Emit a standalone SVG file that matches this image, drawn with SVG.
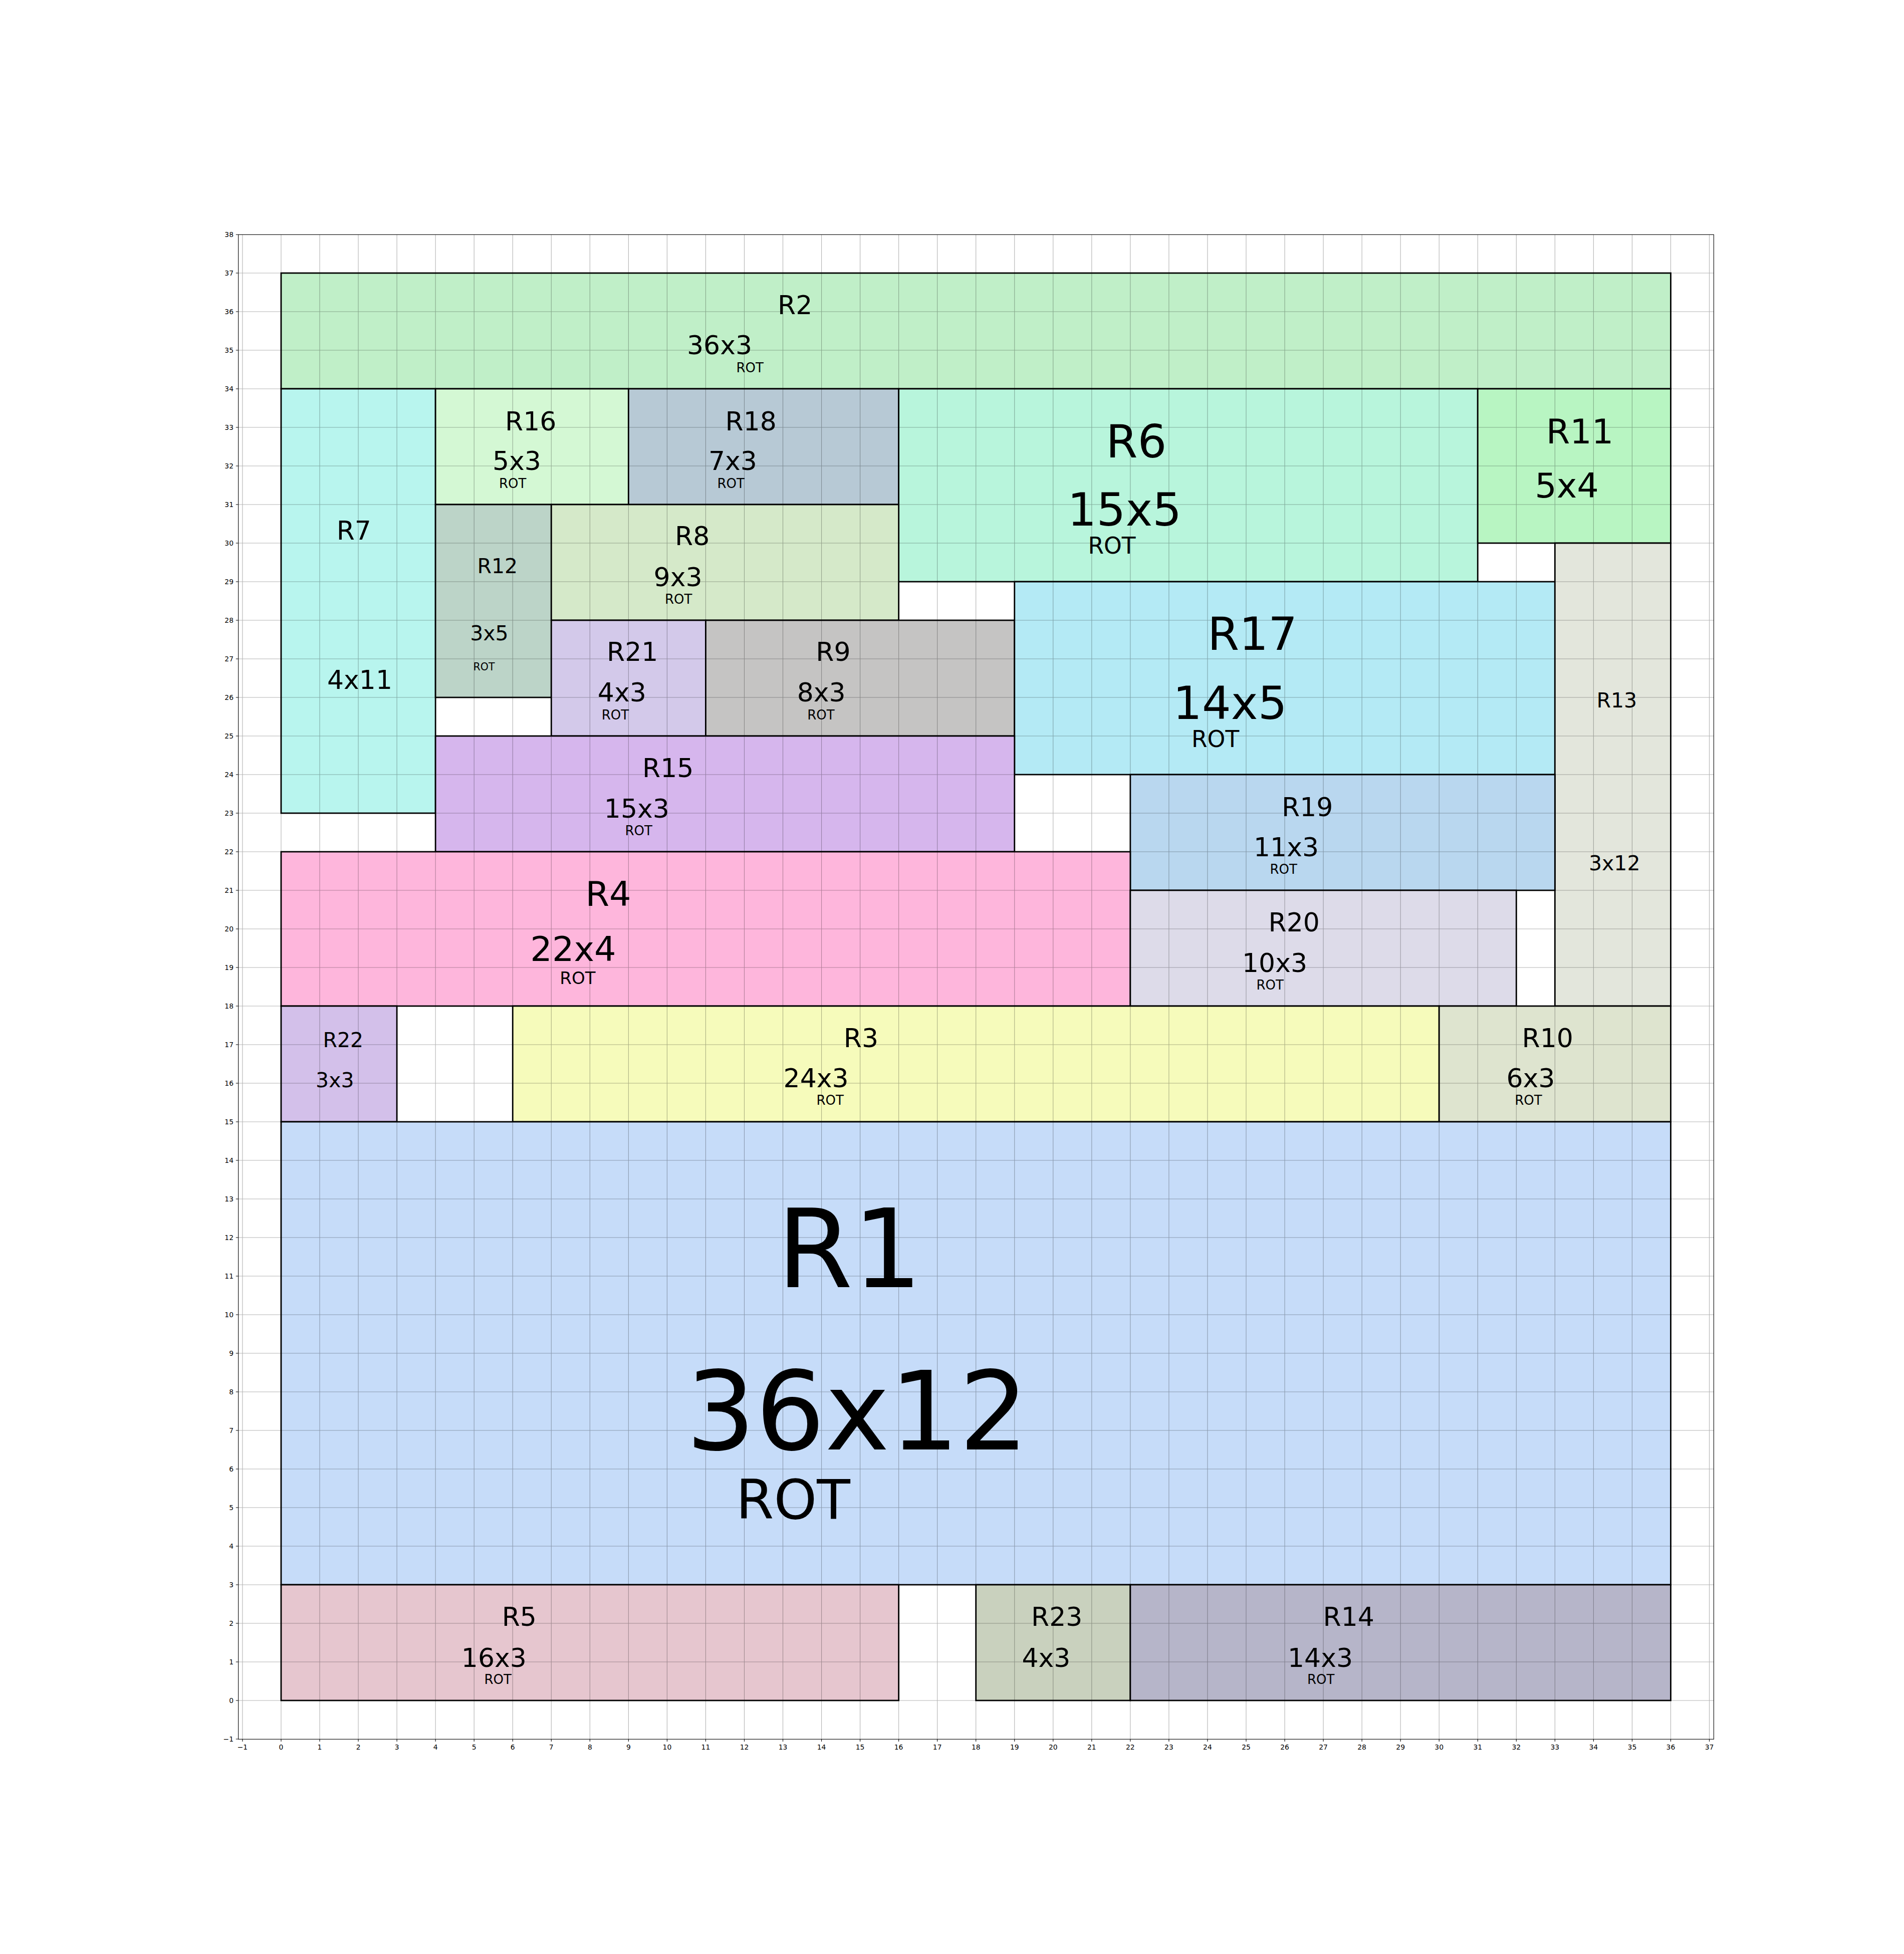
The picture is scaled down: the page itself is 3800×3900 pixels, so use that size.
<svg xmlns="http://www.w3.org/2000/svg" width="3800" height="3900" viewBox="0 0 3800 3900">
<style>
.r{stroke:#000;stroke-width:2.8}
.t{font-family:"DejaVu Sans","Liberation Sans",sans-serif;fill:#000}
.f52{font-size:52px}.f26{font-size:26px}
.f41{font-size:41px}.f20{font-size:20.5px}
.f68{font-size:68.5px}.f34{font-size:34px}
.f91{font-size:91px}.f45{font-size:45.5px}
.f218{font-size:218px}.f109{font-size:109px}
.tk{font-family:"DejaVu Sans","Liberation Sans",sans-serif;font-size:13.9px;fill:#000}
.grid{stroke:#000;stroke-opacity:0.3;stroke-width:1.1;fill:none}
</style>
<rect x="0" y="0" width="3800" height="3900" fill="#fff"/>

<g id="R2"><rect class="r" x="561" y="545" width="2773.44" height="231" fill="#c0efc8"/>
<text class="t f52" x="1552" y="627">R2</text><text class="t f52" x="1371" y="707">36x3</text><text class="t f26" x="1469.5" y="743">ROT</text></g>
<g id="R7"><rect class="r" x="561" y="776" width="308.16" height="847" fill="#b8f5ee"/>
<text class="t f52" x="671.7" y="1077">R7</text><text class="t f52" x="653" y="1375">4x11</text></g>
<g id="R16"><rect class="r" x="869.16" y="776" width="385.2" height="231" fill="#d4f8d4"/>
<text class="t f52" x="1008" y="858.6">R16</text><text class="t f52" x="983" y="938">5x3</text><text class="t f26" x="996" y="974">ROT</text></g>
<g id="R18"><rect class="r" x="1254.36" y="776" width="539.28" height="231" fill="#b7c9d5"/>
<text class="t f52" x="1447.5" y="858.6">R18</text><text class="t f52" x="1414" y="938">7x3</text><text class="t f26" x="1431.5" y="974">ROT</text></g>
<g id="R6"><rect class="r" x="1793.64" y="776" width="1155.6" height="385" fill="#b8f5dc"/>
<text class="t f91" x="2207.3" y="912.8">R6</text><text class="t f91" x="2130.6" y="1048.6">15x5</text><text class="t f45" x="2171.4" y="1104.8">ROT</text></g>
<g id="R11"><rect class="r" x="2949.24" y="776" width="385.2" height="308" fill="#b8f5c2"/>
<text class="t f68" x="3085.7" y="885.4">R11</text><text class="t f68" x="3063.2" y="993.2">5x4</text></g>
<g id="R12"><rect class="r" x="869.16" y="1007" width="231.12" height="385" fill="#bcd4c8"/>
<text class="t f41" x="952.5" y="1143.7">R12</text><text class="t f41" x="938.2" y="1278">3x5</text><text class="t f20" x="944.5" y="1337.6">ROT</text></g>
<g id="R8"><rect class="r" x="1100.28" y="1007" width="693.36" height="231" fill="#d5e9c9"/>
<text class="t f52" x="1347" y="1088">R8</text><text class="t f52" x="1304.6" y="1170">9x3</text><text class="t f26" x="1327" y="1205">ROT</text></g>
<g id="R21"><rect class="r" x="1100.28" y="1238" width="308.16" height="231" fill="#d3c9ea"/>
<text class="t f52" x="1211" y="1318.5">R21</text><text class="t f52" x="1192.8" y="1400">4x3</text><text class="t f26" x="1200.8" y="1436">ROT</text></g>
<g id="R9"><rect class="r" x="1408.44" y="1238" width="616.32" height="231" fill="#c5c4c3"/>
<text class="t f52" x="1628.3" y="1319">R9</text><text class="t f52" x="1590.7" y="1400">8x3</text><text class="t f26" x="1611.2" y="1436">ROT</text></g>
<g id="R17"><rect class="r" x="2024.76" y="1161" width="1078.56" height="385" fill="#b4eaf5"/>
<text class="t f91" x="2410" y="1297.4">R17</text><text class="t f91" x="2341" y="1434.5">14x5</text><text class="t f45" x="2378" y="1490.6">ROT</text></g>
<g id="R13"><rect class="r" x="3103.32" y="1084" width="231.12" height="924" fill="#e3e6dc"/>
<text class="t f41" x="3186.5" y="1412.2">R13</text><text class="t f41" x="3171" y="1737.4">3x12</text></g>
<g id="R15"><rect class="r" x="869.16" y="1469" width="1155.6" height="231" fill="#d6b6ed"/>
<text class="t f52" x="1282" y="1550.6">R15</text><text class="t f52" x="1205.8" y="1632.2">15x3</text><text class="t f26" x="1247.5" y="1667.3">ROT</text></g>
<g id="R19"><rect class="r" x="2255.88" y="1546" width="847.44" height="231" fill="#b9d7ef"/>
<text class="t f52" x="2558" y="1629">R19</text><text class="t f52" x="2502" y="1708.7">11x3</text><text class="t f26" x="2534.5" y="1743.8">ROT</text></g>
<g id="R4"><rect class="r" x="561" y="1700" width="1694.88" height="308" fill="#feb6dc"/>
<text class="t f68" x="1168.5" y="1807.6">R4</text><text class="t f68" x="1058.3" y="1917.9">22x4</text><text class="t f34" x="1117.3" y="1963.8">ROT</text></g>
<g id="R20"><rect class="r" x="2255.88" y="1777" width="770.4" height="231" fill="#dddbe9"/>
<text class="t f52" x="2531.5" y="1859.2">R20</text><text class="t f52" x="2479" y="1939.6">10x3</text><text class="t f26" x="2507.5" y="1974.7">ROT</text></g>
<g id="R22"><rect class="r" x="561" y="2008" width="231.12" height="231" fill="#d3c0ea"/>
<text class="t f41" x="644.5" y="2089.5">R22</text><text class="t f41" x="630.1" y="2169.8">3x3</text></g>
<g id="R3"><rect class="r" x="1023.24" y="2008" width="1848.96" height="231" fill="#f6fbbb"/>
<text class="t f52" x="1683.8" y="2089.5">R3</text><text class="t f52" x="1563.6" y="2169.8">24x3</text><text class="t f26" x="1629.5" y="2205">ROT</text></g>
<g id="R10"><rect class="r" x="2872.2" y="2008" width="462.24" height="231" fill="#dee4cf"/>
<text class="t f52" x="3037.5" y="2090">R10</text><text class="t f52" x="3006.5" y="2169.8">6x3</text><text class="t f26" x="3023.3" y="2205">ROT</text></g>
<g id="R1"><rect class="r" x="561" y="2239" width="2773.44" height="924" fill="#c6dcf9"/>
<text class="t f218" x="1550.6" y="2569.3">R1</text><text class="t f218" x="1369" y="2892.7">36x12</text><text class="t f109" x="1468.7" y="3031.3">ROT</text></g>
<g id="R5"><rect class="r" x="561" y="3163" width="1232.64" height="231" fill="#e6c6cf"/>
<text class="t f52" x="1001.7" y="3245.3">R5</text><text class="t f52" x="920.8" y="3327.3">16x3</text><text class="t f26" x="966.5" y="3361">ROT</text></g>
<g id="R23"><rect class="r" x="1947.72" y="3163" width="308.16" height="231" fill="#c9d1be"/>
<text class="t f52" x="2058" y="3245.3">R23</text><text class="t f52" x="2039.5" y="3327.3">4x3</text></g>
<g id="R14"><rect class="r" x="2255.88" y="3163" width="1078.56" height="231" fill="#b6b5c9"/>
<text class="t f52" x="2640.5" y="3245.3">R14</text><text class="t f52" x="2570" y="3327.3">14x3</text><text class="t f26" x="2609" y="3361">ROT</text></g>

<g id="grid">
<path class="grid" d="M483.96 468V3471M561 468V3471M638.04 468V3471M715.08 468V3471M792.12 468V3471M869.16 468V3471M946.2 468V3471M1023.24 468V3471M1100.28 468V3471M1177.32 468V3471M1254.36 468V3471M1331.4 468V3471M1408.44 468V3471M1485.48 468V3471M1562.52 468V3471M1639.56 468V3471M1716.6 468V3471M1793.64 468V3471M1870.68 468V3471M1947.72 468V3471M2024.76 468V3471M2101.8 468V3471M2178.84 468V3471M2255.88 468V3471M2332.92 468V3471M2409.96 468V3471M2487 468V3471M2564.04 468V3471M2641.08 468V3471M2718.12 468V3471M2795.16 468V3471M2872.2 468V3471M2949.24 468V3471M3026.28 468V3471M3103.32 468V3471M3180.36 468V3471M3257.4 468V3471M3334.44 468V3471M3411.48 468V3471
M475.7 3394H3420.3M475.7 3317H3420.3M475.7 3240H3420.3M475.7 3163H3420.3M475.7 3086H3420.3M475.7 3009H3420.3M475.7 2932H3420.3M475.7 2855H3420.3M475.7 2778H3420.3M475.7 2701H3420.3M475.7 2624H3420.3M475.7 2547H3420.3M475.7 2470H3420.3M475.7 2393H3420.3M475.7 2316H3420.3M475.7 2239H3420.3M475.7 2162H3420.3M475.7 2085H3420.3M475.7 2008H3420.3M475.7 1931H3420.3M475.7 1854H3420.3M475.7 1777H3420.3M475.7 1700H3420.3M475.7 1623H3420.3M475.7 1546H3420.3M475.7 1469H3420.3M475.7 1392H3420.3M475.7 1315H3420.3M475.7 1238H3420.3M475.7 1161H3420.3M475.7 1084H3420.3M475.7 1007H3420.3M475.7 930H3420.3M475.7 853H3420.3M475.7 776H3420.3M475.7 699H3420.3M475.7 622H3420.3M475.7 545H3420.3"/>
</g>

<g id="axes">
<rect x="475.7" y="468.3" width="2944.6" height="3003" fill="none" stroke="#000" stroke-width="1.1"/>
<path stroke="#000" stroke-width="1.1" fill="none" d="M483.96 3471V3476M561 3471V3476M638.04 3471V3476M715.08 3471V3476M792.12 3471V3476M869.16 3471V3476M946.2 3471V3476M1023.24 3471V3476M1100.28 3471V3476M1177.32 3471V3476M1254.36 3471V3476M1331.4 3471V3476M1408.44 3471V3476M1485.48 3471V3476M1562.52 3471V3476M1639.56 3471V3476M1716.6 3471V3476M1793.64 3471V3476M1870.68 3471V3476M1947.72 3471V3476M2024.76 3471V3476M2101.8 3471V3476M2178.84 3471V3476M2255.88 3471V3476M2332.92 3471V3476M2409.96 3471V3476M2487 3471V3476M2564.04 3471V3476M2641.08 3471V3476M2718.12 3471V3476M2795.16 3471V3476M2872.2 3471V3476M2949.24 3471V3476M3026.28 3471V3476M3103.32 3471V3476M3180.36 3471V3476M3257.4 3471V3476M3334.44 3471V3476M3411.48 3471V3476
M470.8 3471H475.7M470.8 3394H475.7M470.8 3317H475.7M470.8 3240H475.7M470.8 3163H475.7M470.8 3086H475.7M470.8 3009H475.7M470.8 2932H475.7M470.8 2855H475.7M470.8 2778H475.7M470.8 2701H475.7M470.8 2624H475.7M470.8 2547H475.7M470.8 2470H475.7M470.8 2393H475.7M470.8 2316H475.7M470.8 2239H475.7M470.8 2162H475.7M470.8 2085H475.7M470.8 2008H475.7M470.8 1931H475.7M470.8 1854H475.7M470.8 1777H475.7M470.8 1700H475.7M470.8 1623H475.7M470.8 1546H475.7M470.8 1469H475.7M470.8 1392H475.7M470.8 1315H475.7M470.8 1238H475.7M470.8 1161H475.7M470.8 1084H475.7M470.8 1007H475.7M470.8 930H475.7M470.8 853H475.7M470.8 776H475.7M470.8 699H475.7M470.8 622H475.7M470.8 545H475.7M470.8 468.3H475.7"/>
<g class="tk" text-anchor="middle">
<text x="483.96" y="3492">−1</text><text x="561" y="3492">0</text><text x="638.04" y="3492">1</text><text x="715.08" y="3492">2</text><text x="792.12" y="3492">3</text><text x="869.16" y="3492">4</text><text x="946.2" y="3492">5</text><text x="1023.24" y="3492">6</text><text x="1100.28" y="3492">7</text><text x="1177.32" y="3492">8</text><text x="1254.36" y="3492">9</text><text x="1331.4" y="3492">10</text><text x="1408.44" y="3492">11</text><text x="1485.48" y="3492">12</text><text x="1562.52" y="3492">13</text><text x="1639.56" y="3492">14</text><text x="1716.6" y="3492">15</text><text x="1793.64" y="3492">16</text><text x="1870.68" y="3492">17</text><text x="1947.72" y="3492">18</text><text x="2024.76" y="3492">19</text><text x="2101.8" y="3492">20</text><text x="2178.84" y="3492">21</text><text x="2255.88" y="3492">22</text><text x="2332.92" y="3492">23</text><text x="2409.96" y="3492">24</text><text x="2487" y="3492">25</text><text x="2564.04" y="3492">26</text><text x="2641.08" y="3492">27</text><text x="2718.12" y="3492">28</text><text x="2795.16" y="3492">29</text><text x="2872.2" y="3492">30</text><text x="2949.24" y="3492">31</text><text x="3026.28" y="3492">32</text><text x="3103.32" y="3492">33</text><text x="3180.36" y="3492">34</text><text x="3257.4" y="3492">35</text><text x="3334.44" y="3492">36</text><text x="3411.48" y="3492">37</text>
</g>
<g class="tk" text-anchor="end">
<text x="466" y="3476">−1</text><text x="466" y="3399">0</text><text x="466" y="3322">1</text><text x="466" y="3245">2</text><text x="466" y="3168">3</text><text x="466" y="3091">4</text><text x="466" y="3014">5</text><text x="466" y="2937">6</text><text x="466" y="2860">7</text><text x="466" y="2783">8</text><text x="466" y="2706">9</text><text x="466" y="2629">10</text><text x="466" y="2552">11</text><text x="466" y="2475">12</text><text x="466" y="2398">13</text><text x="466" y="2321">14</text><text x="466" y="2244">15</text><text x="466" y="2167">16</text><text x="466" y="2090">17</text><text x="466" y="2013">18</text><text x="466" y="1936">19</text><text x="466" y="1859">20</text><text x="466" y="1782">21</text><text x="466" y="1705">22</text><text x="466" y="1628">23</text><text x="466" y="1551">24</text><text x="466" y="1474">25</text><text x="466" y="1397">26</text><text x="466" y="1320">27</text><text x="466" y="1243">28</text><text x="466" y="1166">29</text><text x="466" y="1089">30</text><text x="466" y="1012">31</text><text x="466" y="935">32</text><text x="466" y="858">33</text><text x="466" y="781">34</text><text x="466" y="704">35</text><text x="466" y="627">36</text><text x="466" y="550">37</text><text x="466" y="473">38</text>
</g>
</g>
</svg>
